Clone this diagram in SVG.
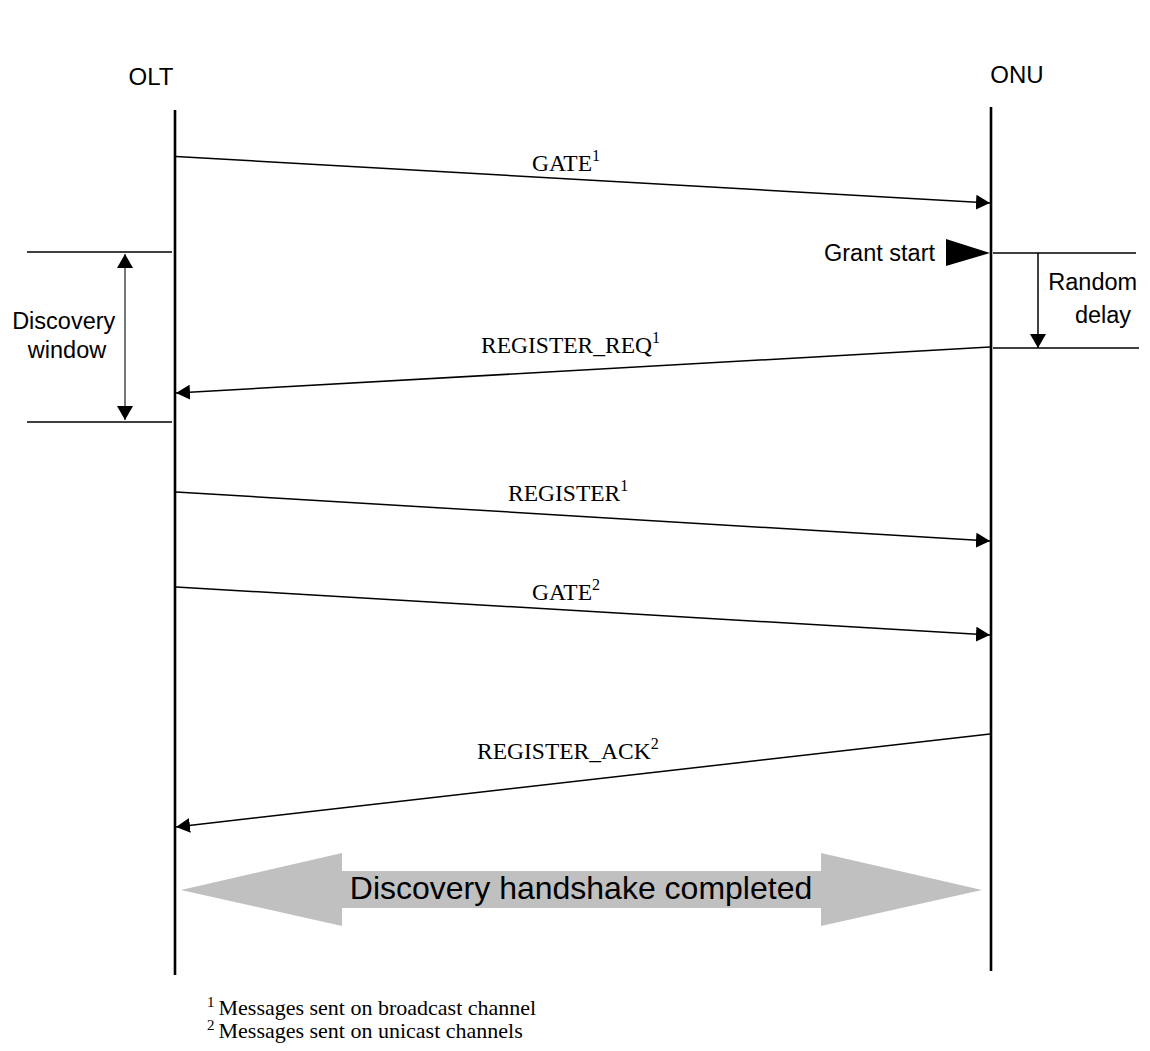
<svg xmlns="http://www.w3.org/2000/svg" width="1150" height="1051" viewBox="0 0 1150 1051">
  <style>
    .sans { font-family: "Liberation Sans", Arial, sans-serif; fill: #000; }
    .serif { font-family: "Liberation Serif", "Times New Roman", serif; fill: #000; }
    .lbl { font-size: 23.5px; }
    .sup { font-size: 16px; }
    .life { stroke: #000; stroke-width: 2.6; fill: none; }
    .msg { stroke: #000; stroke-width: 1.5; fill: none; marker-end: url(#head); }
    .tick { stroke: #000; stroke-width: 1.3; fill: none; }
  </style>
  <defs>
    <marker id="head" markerUnits="userSpaceOnUse" markerWidth="16" markerHeight="16" refX="14" refY="7.5" orient="auto">
      <path d="M0,0 L14,7.5 L0,15 z" fill="#000"/>
    </marker>
    <marker id="dim" markerUnits="userSpaceOnUse" markerWidth="18" markerHeight="18" refX="14" refY="8" orient="auto-start-reverse">
      <path d="M0,0 L14,8 L0,16 z" fill="#000"/>
    </marker>
  </defs>

  <rect width="1150" height="1051" fill="#fff"/>

  <!-- lifelines -->
  <g id="olt">
    <text class="sans" x="151" y="85" font-size="24" text-anchor="middle">OLT</text>
    <line class="life" x1="175" y1="110" x2="175" y2="975"/>
  </g>
  <g id="onu">
    <text class="sans" x="1017" y="83" font-size="24" text-anchor="middle">ONU</text>
    <line class="life" x1="991" y1="107" x2="991" y2="971"/>
  </g>

  <!-- discovery window bracket on the OLT side -->
  <g id="discovery-window">
    <line class="tick" x1="27" y1="252" x2="172" y2="252" stroke="#444"/>
    <line class="tick" x1="27" y1="422" x2="172" y2="422"/>
    <line x1="125" y1="254" x2="125" y2="420" stroke="#555" stroke-width="1.6" marker-start="url(#dim)" marker-end="url(#dim)"/>
    <text class="sans" font-size="23.5" text-anchor="middle">
      <tspan x="67" y="329">Discovery</tspan>
      <tspan x="67" y="358">window</tspan>
    </text>
  </g>

  <!-- grant start flag and random delay on the ONU side -->
  <g id="grant-start">
    <polygon points="946,239 990,253 946,266" fill="#000"/>
    <text class="sans" x="935" y="261" font-size="23.5" text-anchor="end">Grant start</text>
  </g>
  <g id="random-delay">
    <line class="tick" x1="993" y1="253" x2="1136" y2="253"/>
    <line class="tick" x1="993" y1="348" x2="1139" y2="348"/>
    <line x1="1038" y1="253" x2="1038" y2="348" stroke="#000" stroke-width="1.5" marker-end="url(#dim)"/>
    <text class="sans" font-size="23.5" text-anchor="middle">
      <tspan x="1096" y="290">Random</tspan>
      <tspan x="1103" y="323">delay</tspan>
    </text>
  </g>

  <!-- messages -->
  <g id="connectors">
    <line class="msg" x1="176" y1="156.5" x2="990" y2="203"/>
    <line class="msg" x1="990" y1="347" x2="176" y2="393"/>
    <line class="msg" x1="176" y1="492" x2="990" y2="541"/>
    <line class="msg" x1="176" y1="587" x2="990" y2="635"/>
    <line class="msg" x1="990" y1="734" x2="176" y2="827"/>
  </g>

  <g id="msg-labels">
    <text class="serif lbl" x="532" y="171">GATE<tspan class="sup" dy="-10.5">1</tspan></text>
    <text class="serif lbl" x="481" y="353">REGISTER_REQ<tspan class="sup" dy="-10.5">1</tspan></text>
    <text class="serif lbl" x="508" y="501">REGISTER<tspan class="sup" dy="-10.5">1</tspan></text>
    <text class="serif lbl" x="532" y="600">GATE<tspan class="sup" dy="-10.5">2</tspan></text>
    <text class="serif lbl" x="477" y="759">REGISTER_ACK<tspan class="sup" dy="-10.5">2</tspan></text>
  </g>

  <!-- handshake banner -->
  <g id="handshake">
    <polygon points="181,890 342,853 342,871 821,871 821,853 982,890 821,926 821,908 342,908 342,926" fill="#c0c0c0"/>
    <text class="sans" x="581" y="899" font-size="32" text-anchor="middle">Discovery handshake completed</text>
  </g>

  <!-- footnotes -->
  <g id="footnotes">
    <text class="serif" x="207" y="1015" font-size="22"><tspan font-size="15" dy="-8">1</tspan><tspan dx="4" dy="8">Messages sent on broadcast channel</tspan></text>
    <text class="serif" x="207" y="1038" font-size="22"><tspan font-size="15" dy="-8">2</tspan><tspan dx="4" dy="8">Messages sent on unicast channels</tspan></text>
  </g>
</svg>
